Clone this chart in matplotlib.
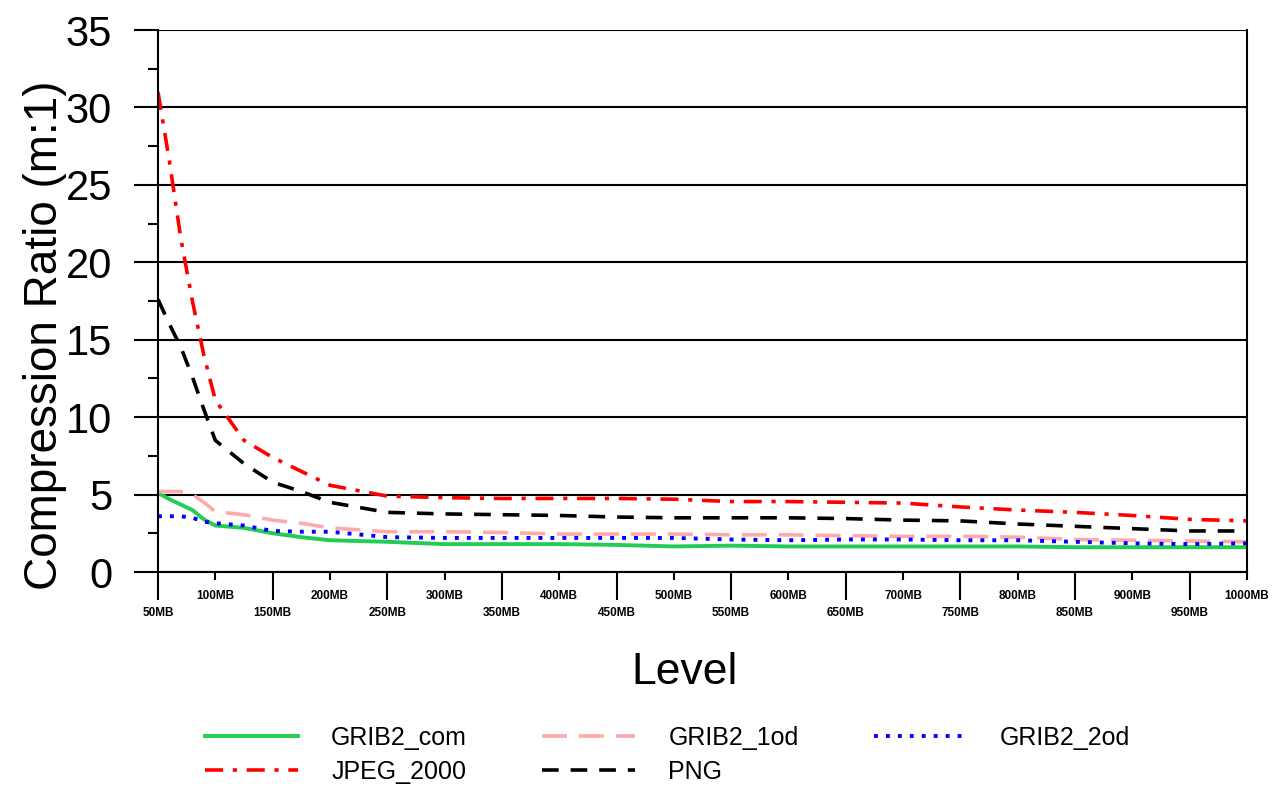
import matplotlib
matplotlib.use("Agg")
import matplotlib.pyplot as plt
from matplotlib.ticker import MultipleLocator, FixedLocator

plt.rcParams['font.family'] = ['Liberation Sans', 'DejaVu Sans']
plt.rcParams['lines.scale_dashes'] = False

# pressure levels (MB)
levels = [50, 60, 70, 80, 90, 100, 125, 150, 175, 200, 250, 300, 350, 400, 450,
          500, 550, 600, 650, 700, 750, 800, 850, 900, 950, 1000]

grib2_com = [5.1, 4.7, 4.35, 4.0, 3.4, 3.0, 2.85, 2.5, 2.25, 2.05, 1.95, 1.8, 1.8,
             1.8, 1.75, 1.65, 1.7, 1.65, 1.65, 1.65, 1.65, 1.65, 1.6, 1.6, 1.6, 1.6]
grib2_1od = [5.2, 5.2, 5.2, 5.0, 4.5, 3.9, 3.7, 3.35, 3.15, 2.85, 2.6, 2.6, 2.55,
             2.45, 2.45, 2.45, 2.4, 2.4, 2.35, 2.3, 2.3, 2.25, 2.1, 2.05, 2.0, 1.95]
grib2_2od = [3.6, 3.6, 3.6, 3.5, 3.25, 3.15, 3.0, 2.65, 2.6, 2.6, 2.25, 2.2, 2.2,
             2.2, 2.2, 2.2, 2.1, 2.05, 2.1, 2.1, 2.05, 2.05, 1.95, 1.85, 1.8, 1.85]
jpeg_2000 = [31.0, 26.5, 21.5, 17.5, 14.0, 11.1, 8.5, 7.4, 6.5, 5.6, 4.9, 4.8, 4.75,
             4.75, 4.75, 4.7, 4.55, 4.55, 4.5, 4.45, 4.2, 4.0, 3.85, 3.65, 3.4, 3.3]
png = [17.6, 16.0, 14.5, 12.6, 10.5, 8.5, 7.0, 5.8, 5.2, 4.5, 3.85, 3.75, 3.7,
       3.65, 3.55, 3.5, 3.5, 3.5, 3.45, 3.35, 3.3, 3.1, 2.95, 2.8, 2.65, 2.65]

tick_levels = list(range(50, 1001, 50))
tick_labels = [f"{v}MB" for v in tick_levels]

fig = plt.figure(figsize=(12.79, 7.91), dpi=100)
ax = fig.add_axes([158 / 1279, 1 - 572 / 791, (1247 - 158) / 1279, (572 - 30) / 791])

h_com, = ax.plot(levels, grib2_com, color='#22cc55', lw=2.8, label='GRIB2_com')
h_1od, = ax.plot(levels, grib2_1od, color='#ffaaaa', lw=2.6, dashes=(18, 8.6), label='GRIB2_1od')
h_2od, = ax.plot(levels, grib2_2od, color='#0000ff', lw=2.8, dashes=(2.8, 5.8), label='GRIB2_2od')
h_jpg, = ax.plot(levels, jpeg_2000, color='#ff0000', lw=2.6, dashes=(13, 7, 3, 7), label='JPEG_2000')
h_png, = ax.plot(levels, png, color='black', lw=2.6, dashes=(12, 8.6), label='PNG')

ax.set_xlim(50, 1000)
ax.set_ylim(0, 35)

# y axis: gridlines run out past the spine as long major ticks
ax.yaxis.set_major_locator(MultipleLocator(5))
ax.yaxis.set_minor_locator(MultipleLocator(2.5))
ax.grid(axis='y', which='major', color='black', lw=1.5)
ax.tick_params(axis='y', which='major', direction='out', length=17, width=1.5,
               labelsize=30, pad=16)
ax.tick_params(axis='y', which='minor', direction='out', length=7, width=1.5)

# x axis: long ticks with low labels, short ticks with high labels
ax.xaxis.set_major_locator(FixedLocator(tick_levels[0::2]))
ax.xaxis.set_minor_locator(FixedLocator(tick_levels[1::2]))
ax.set_xticklabels(tick_labels[0::2])
ax.set_xticklabels(tick_labels[1::2], minor=True)
ax.tick_params(axis='x', which='major', direction='out', length=20, width=1.5,
               labelsize=8.5, pad=5)
ax.tick_params(axis='x', which='minor', direction='out', length=6, width=1.5,
               labelsize=8.5, pad=7)
for lab in ax.get_xticklabels(which='both'):
    lab.set_fontweight('bold')

for side in ['left', 'bottom', 'right', 'top']:
    ax.spines[side].set_linewidth(1.5)
ax.spines['top'].set_visible(False)

fig.text(45 / 1279, 1 - 335 / 791, 'Compression Ratio (m:1)', rotation=90,
         ha='center', va='center', fontsize=33)
fig.text(685 / 1279, 1 - 672 / 791, 'Level', ha='center', va='center', fontsize=32)

# legend filled column by column, so order gives rows com/1od/2od then jpeg/png
fig.legend([h_com, h_jpg, h_1od, h_png, h_2od],
           ['GRIB2_com', 'JPEG_2000', 'GRIB2_1od', 'PNG', 'GRIB2_2od'],
           loc='upper left', bbox_to_anchor=(205 / 1279, 1 - 726 / 791), ncol=3,
           frameon=False, fontsize=18, handlelength=3.7, handletextpad=1.35,
           columnspacing=3.0, labelspacing=0.4, borderpad=0, borderaxespad=0)

fig.savefig('out.png', dpi=100)
